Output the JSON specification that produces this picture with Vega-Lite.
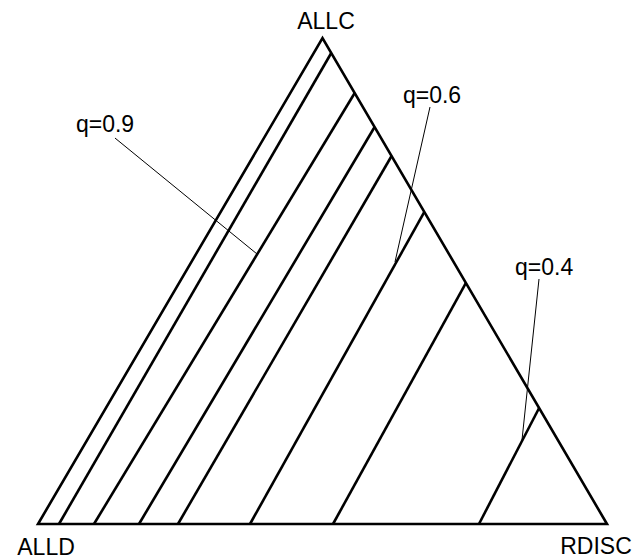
{
  "$schema": "https://vega.github.io/schema/vega-lite/v6.json",
  "width": 637,
  "height": 558,
  "padding": 0,
  "autosize": "none",
  "background": "white",
  "config": {"view": {"stroke": null}},
  "datasets": {
    "edges": [
      {"seg": "frame", "ord": 0, "x": 0, "y": 0},
      {"seg": "frame", "ord": 1, "x": 1, "y": 0},
      {"seg": "frame", "ord": 2, "x": 0.5, "y": 1},
      {"seg": "frame", "ord": 3, "x": 0, "y": 0},
      {"seg": "frame", "ord": 4, "x": 0.05, "y": 0},
      {"seg": "b1", "ord": 0, "x": 0.0369, "y": 0},
      {"seg": "b1", "ord": 1, "x": 0.5154, "y": 0.9691},
      {"seg": "b2", "ord": 0, "x": 0.0984, "y": 0},
      {"seg": "b2", "ord": 1, "x": 0.5566, "y": 0.8868},
      {"seg": "b3", "ord": 0, "x": 0.1775, "y": 0},
      {"seg": "b3", "ord": 1, "x": 0.5916, "y": 0.8169},
      {"seg": "b4", "ord": 0, "x": 0.2460, "y": 0},
      {"seg": "b4", "ord": 1, "x": 0.6214, "y": 0.7572},
      {"seg": "b5", "ord": 0, "x": 0.3726, "y": 0},
      {"seg": "b5", "ord": 1, "x": 0.6790, "y": 0.6420},
      {"seg": "b6", "ord": 0, "x": 0.5185, "y": 0},
      {"seg": "b6", "ord": 1, "x": 0.7521, "y": 0.4959},
      {"seg": "b7", "ord": 0, "x": 0.7750, "y": 0},
      {"seg": "b7", "ord": 1, "x": 0.8807, "y": 0.2387}
    ],
    "leaders": [
      {"seg": "q09", "ord": 0, "x": 0.1353, "y": 0.7942},
      {"seg": "q09", "ord": 1, "x": 0.3849, "y": 0.5556},
      {"seg": "q06", "ord": 0, "x": 0.6889, "y": 0.8580},
      {"seg": "q06", "ord": 1, "x": 0.6274, "y": 0.5391},
      {"seg": "q04", "ord": 0, "x": 0.8805, "y": 0.5041},
      {"seg": "q04", "ord": 1, "x": 0.8506, "y": 0.1728}
    ],
    "vertexLabels": [
      {"label": "ALLC", "x": 0.5061, "y": 1.0185},
      {"label": "ALLD", "x": 0.0141, "y": -0.0638},
      {"label": "RDISC", "x": 0.9807, "y": -0.0617}
    ],
    "qLabels": [
      {"label": "q=0.9", "x": 0.0667, "y": 0.8066},
      {"label": "q=0.6", "x": 0.6414, "y": 0.8663},
      {"label": "q=0.4", "x": 0.8383, "y": 0.5123}
    ]
  },
  "encoding": {
    "x": {"field": "x", "type": "quantitative", "axis": null,
          "scale": {"domain": [-0.06678, 1.05272], "nice": false, "zero": false}},
    "y": {"field": "y", "type": "quantitative", "axis": null,
          "scale": {"domain": [-0.06996, 1.07819], "nice": false, "zero": false}}
  },
  "layer": [
    {
      "data": {"name": "edges"},
      "mark": {"type": "line", "color": "black", "strokeWidth": 2.6, "strokeJoin": "miter", "strokeMiterLimit": 20},
      "encoding": {"detail": {"field": "seg"}, "order": {"field": "ord"}}
    },
    {
      "data": {"name": "leaders"},
      "mark": {"type": "line", "color": "black", "strokeWidth": 1},
      "encoding": {"detail": {"field": "seg"}, "order": {"field": "ord"}}
    },
    {
      "data": {"name": "vertexLabels"},
      "mark": {"type": "text", "font": "Liberation Sans", "fontSize": 23, "align": "center", "baseline": "alphabetic", "color": "black"},
      "encoding": {"text": {"field": "label"}}
    },
    {
      "data": {"name": "qLabels"},
      "mark": {"type": "text", "font": "Liberation Sans", "fontSize": 23, "align": "left", "baseline": "alphabetic", "color": "black"},
      "encoding": {"text": {"field": "label"}}
    }
  ]
}
